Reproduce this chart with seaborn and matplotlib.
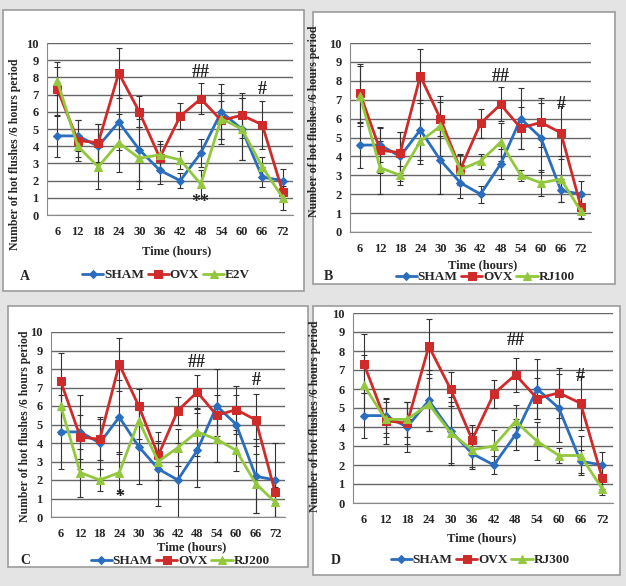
import numpy as np
import pandas as pd
import matplotlib
matplotlib.use("Agg")
import matplotlib.pyplot as plt
from matplotlib.patches import Rectangle
import seaborn as sns

# data
hours = ["6", "12", "18", "24", "30", "36", "42", "48", "54", "60", "66", "72"]

sham = [4.6, 4.6, 4.0, 5.4, 3.8, 2.6, 2.0, 3.6, 6.0, 5.0, 2.2, 2.0]
sham_err = [1.2, 0.9, 1.3, 1.6, 1.8, 0.8, 0.45, 0.8, 1.6, 1.8, 0.6, 0.7]
sham_err_c = [2.0, 2.0, 1.4, 2.0, 2.0, 2.0, 2.0, 2.0, 2.0, 1.6, 2.0, 2.0]

ovx = [7.33, 4.33, 4.2, 8.25, 6.0, 3.33, 5.75, 6.75, 5.5, 5.8, 5.25, 1.33]
ovx_err = [1.55, 1.2, 1.1, 1.45, 0.9, 0.8, 0.75, 0.9, 1.1, 1.3, 1.4, 0.6]

e2v = [7.8, 4.0, 2.8, 4.2, 3.3, 3.5, 3.2, 1.8, 5.6, 5.0, 2.8, 1.0]
e2v_err = [0.8, 0.6, 1.3, 1.7, 1.8, 0.8, 0.5, 0.8, 1.5, 1.8, 0.6, 0.7]

rj100 = [7.2, 3.4, 3.0, 4.8, 5.6, 3.3, 3.75, 4.75, 3.0, 2.6, 2.8, 1.1]
rj100_err = [1.6, 1.4, 0.5, 1.2, 1.6, 0.8, 0.4, 1.0, 0.3, 0.7, 1.2, 0.4]

rj200 = [6.0, 2.4, 2.0, 2.4, 5.2, 3.0, 3.75, 4.6, 4.2, 3.6, 1.8, 0.8]
rj200_err = [1.5, 1.3, 0.6, 1.1, 1.0, 1.0, 1.0, 1.3, 1.2, 1.1, 1.6, 0.8]

rj300 = [6.2, 4.4, 4.4, 5.2, 3.7, 2.8, 3.0, 4.3, 3.25, 2.5, 2.5, 0.75]
rj300_err = [1.6, 0.9, 0.9, 1.4, 1.6, 0.9, 0.85, 0.85, 1.0, 0.4, 1.05, 0.35]

treat_names = ["E2V", "RJ100", "RJ200", "RJ300"]
panel_letters = ["A", "B", "C", "D"]

# significance marks: (hour index, y, text)
marks = {
    "A": [(7, 7.8, "##"), (10, 6.8, "#"), (7, 0.25, "**")],
    "B": [(7, 7.8, "##"), (10, 6.3, "#"), ],
    "C": [(7, 7.9, "##"), (10, 6.9, "#"), (3, 0.6, "*")],
    "D": [(7, 8.1, "##"), (10, 6.2, "#")],
}

W, H = 626, 586
blue, red, green = "#2a6ebd", "#cf2b2b", "#93c83e"
serif = "Liberation Serif"

sns.set_style("white")
plt.rcParams["font.family"] = [serif, "DejaVu Serif"]
plt.rcParams["font.weight"] = "bold"

fig = plt.figure(figsize=(W / 100, H / 100), dpi=100)
fig.patch.set_facecolor("#e4e4e4")

# pixel layout: box, axes, xlabel, legend centre, letter, ylabel (axes coords)
layout = {
    "A": dict(box=(3, 10, 304, 291), ax=(47, 43, 293, 215), xl=(177, 251), lg=(166, 275), lt=(25, 277), yl=(-0.106, 0.355)),
    "B": dict(box=(313, 12, 615, 284), ax=(350, 43, 591, 232), xl=(483, 265), lg=(485, 277), lt=(328, 277), yl=(-0.124, 0.587)),
    "C": dict(box=(8, 306, 308, 567), ax=(51, 332, 285, 517), xl=(192, 547), lg=(180, 561), lt=(25, 561), yl=(-0.085, 0.49)),
    "D": dict(box=(313, 306, 620, 575), ax=(353, 313, 613, 503), xl=(482, 538), lg=(480, 560), lt=(336, 560), yl=(-0.123, 0.458)),
}

treats = {"A": (e2v, e2v_err), "B": (rj100, rj100_err), "C": (rj200, rj200_err), "D": (rj300, rj300_err)}

for i, key in enumerate(panel_letters):
    L = layout[key]
    x0, y0, x1, y1 = L["box"]
    fig.patches.append(Rectangle((x0 / W, 1 - y1 / H), (x1 - x0) / W, (y1 - y0) / H,
                                 transform=fig.transFigure, facecolor="white",
                                 edgecolor="#9c9c9c", linewidth=1.2, zorder=-5))
    a0, b0, a1, b1 = L["ax"]
    ax = fig.add_axes([a0 / W, 1 - b1 / H, (a1 - a0) / W, (b1 - b0) / H])
    ax.set_zorder(2)
    ax.set_facecolor("white")

    tvals, terr = treats[key]
    serr = sham_err_c if key == "C" else sham_err
    series = [
        ("SHAM", sham, serr, blue, "D", 4),
        ("OVX", ovx, ovx_err, red, "s", 6),
        (treat_names[i], tvals, terr, green, "^", 6),
    ]
    pos = np.arange(len(hours))
    for name, vals, err, col, mk, ms in series:
        ax.errorbar(pos, vals, yerr=err, fmt="none", ecolor="#333333",
                    elinewidth=0.8, capsize=2, capthick=0.8, zorder=2)
        df = pd.DataFrame({"x": pos, "y": vals})
        sns.lineplot(data=df, x="x", y="y", ax=ax, color=col, marker=mk,
                     markersize=ms, markeredgecolor=col, linewidth=2,
                     label=name, zorder=3)

    for idx, yv, txt in marks[key]:
        ax.text(idx, yv, txt, ha="center", va="bottom", fontsize=13,
                fontweight="bold", color="#222222")

    ax.set_xlim(-0.5, len(hours) - 0.5)
    ax.set_ylim(0, 10)
    ax.set_yticks(range(0, 11))
    ax.set_xticks(pos)
    ax.set_xticklabels(hours)
    ax.set_xticks(np.arange(-0.5, len(hours), 1), minor=True)
    ax.tick_params(axis="x", which="major", length=0, labelsize=9, pad=8)
    ax.tick_params(axis="x", which="minor", length=4, color="#777777", direction="out")
    ax.tick_params(axis="y", length=4, color="#777777", labelsize=9, direction="out", pad=2)
    ax.grid(axis="y", color="#666666", linewidth=1.0)
    ax.set_axisbelow(True)
    for s in ["top", "right"]:
        ax.spines[s].set_visible(False)
    for s in ["left", "bottom"]:
        ax.spines[s].set_color("#8a8a8a")

    ax.set_ylabel("Number of hot flushes /6 hours period", fontsize=8.5, fontweight="bold")
    ax.yaxis.set_label_coords(*L["yl"])
    ax.set_xlabel("")
    fig.text(L["xl"][0] / W, 1 - L["xl"][1] / H, "Time (hours)", ha="center", va="center",
             fontsize=9, fontweight="bold")
    fig.text(L["lt"][0] / W, 1 - L["lt"][1] / H, key, ha="center", va="center",
             fontsize=10, fontweight="bold")
    handles, labels = ax.get_legend_handles_labels()
    ax.legend(handles, labels, loc="center", ncol=3, frameon=False,
              bbox_to_anchor=(L["lg"][0] / W, 1 - L["lg"][1] / H), bbox_transform=fig.transFigure,
              handlelength=1.6, handletextpad=0.05, columnspacing=0.3,
              prop={"family": serif, "weight": "bold", "size": 9.5})

fig.savefig("out.png", dpi=100, facecolor=fig.get_facecolor())
